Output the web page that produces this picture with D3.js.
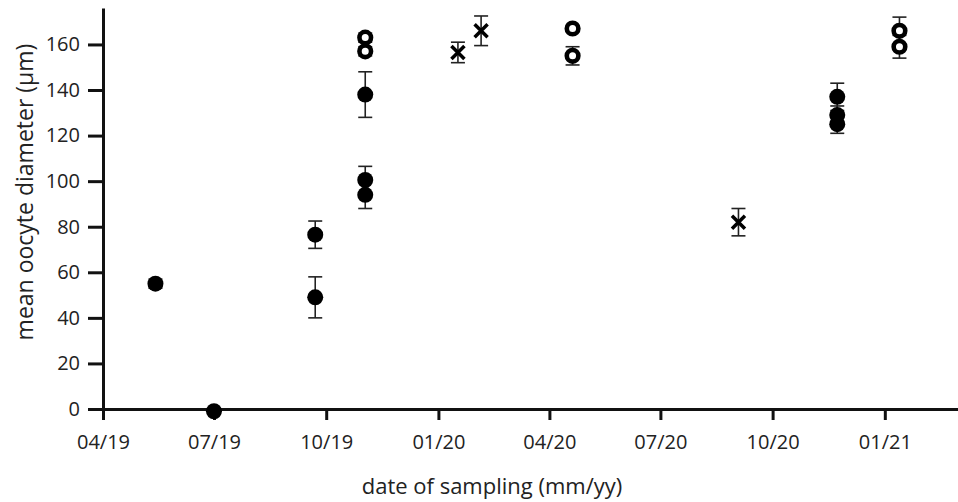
<!DOCTYPE html>
<html>
<head>
<meta charset="utf-8">
<script src="https://cdn.jsdelivr.net/npm/d3@7"></script>
<style>
  body { margin: 0; background: #fff; }
  svg { display: block; }
  text { font-family: "Open Sans", "Noto Sans", sans-serif; fill: #222; }
</style>
</head>
<body>
<svg id="chart" width="958" height="502"></svg>
<script>
// filled circles
const filledDate = ["2019-05-14","2019-07-01","2019-09-22","2019-09-22","2019-11-02","2019-11-02","2019-11-02","2020-11-23","2020-11-23","2020-11-23"]
const filledMean = [55, -1, 76.5, 49, 138, 100.5, 94, 137, 129, 125]
const filledErr  = [2, 0, 6, 9, 10, 6, 6, 6, 4, 4]
// open circles
const openDate = ["2019-11-02","2019-11-02","2020-04-20","2020-04-20","2021-01-13","2021-01-13"]
const openMean = [163, 157, 167, 155, 166, 159]
const openErr  = [2, 2, 1, 4, 6, 5]
// crosses
const crossDate = ["2020-01-17","2020-02-05","2020-09-03"]
const crossMean = [156.5, 166, 82]
const crossErr  = [4.5, 6.5, 6]

const xTicks = ["2019-04-01","2019-07-01","2019-10-01","2020-01-01","2020-04-01","2020-07-01","2020-10-01","2021-01-01"]
const yTicks = [0, 20, 40, 60, 80, 100, 120, 140, 160]

const parse = d3.timeParse("%Y-%m-%d")
const svg = d3.select("#chart")

const x = d3.scaleTime().domain([parse("2019-04-01"), parse("2021-03-02")]).range([103, 958])
const y = d3.scaleLinear().domain([0, 176]).range([409, 8])

function rows(dates, means, errs) {
    return dates.map((d, i) => ({date: parse(d), v: means[i], e: errs[i]}))
}
const filled = rows(filledDate, filledMean, filledErr)
const open = rows(openDate, openMean, openErr)
const cross = rows(crossDate, crossMean, crossErr)

// axes
const xAxis = svg.append("g").attr("transform", "translate(0," + y(0) + ")")
    .call(d3.axisBottom(x).tickValues(xTicks.map(parse)).tickFormat(d3.timeFormat("%m/%y"))
        .tickSize(11).tickSizeOuter(0).tickPadding(15))
const yAxis = svg.append("g").attr("transform", "translate(" + x.range()[0] + ",0)")
    .call(d3.axisLeft(y).tickValues(yTicks).tickSize(15).tickSizeOuter(0).tickPadding(8))
;[xAxis, yAxis].forEach(a => {
    a.select(".domain").attr("stroke", "#111").attr("stroke-width", 3)
    a.selectAll(".tick line").attr("stroke", "#111").attr("stroke-width", 3)
    a.selectAll(".tick text").attr("font-size", 20).attr("fill", "#222")
        .attr("font-family", "'Open Sans', sans-serif")
})

svg.append("text").attr("transform", "translate(33,192) rotate(-90)")
    .attr("text-anchor", "middle").attr("font-size", 23)
    .text("mean oocyte diameter (μm)")
svg.append("text").attr("x", 492).attr("y", 494)
    .attr("text-anchor", "middle").attr("font-size", 22)
    .text("date of sampling (mm/yy)")

// error bars, behind markers
const all = filled.concat(open, cross)
const eb = svg.append("g").attr("stroke", "#222").attr("stroke-width", 1.6)
eb.selectAll(".bar").data(all.filter(d => d.e > 0)).join("line").attr("class", "bar")
    .attr("x1", d => x(d.date)).attr("x2", d => x(d.date))
    .attr("y1", d => y(d.v - d.e)).attr("y2", d => y(d.v + d.e))
eb.selectAll(".capT").data(all.filter(d => d.e > 0)).join("line").attr("class", "capT")
    .attr("x1", d => x(d.date) - 7).attr("x2", d => x(d.date) + 7)
    .attr("y1", d => y(d.v + d.e)).attr("y2", d => y(d.v + d.e))
eb.selectAll(".capB").data(all.filter(d => d.e > 0)).join("line").attr("class", "capB")
    .attr("x1", d => x(d.date) - 7).attr("x2", d => x(d.date) + 7)
    .attr("y1", d => y(d.v - d.e)).attr("y2", d => y(d.v - d.e))

// markers
svg.append("g").selectAll("circle").data(filled).join("circle")
    .attr("cx", d => x(d.date)).attr("cy", d => y(d.v)).attr("r", 8)
    .attr("fill", "#000")
svg.append("g").selectAll("circle").data(open).join("circle")
    .attr("cx", d => x(d.date)).attr("cy", d => y(d.v)).attr("r", 5.8)
    .attr("fill", "#fff").attr("stroke", "#000").attr("stroke-width", 4.6)
svg.append("g").selectAll("path").data(cross).join("path")
    .attr("d", d => {
        const cx = x(d.date), cy = y(d.v), s = 6.5
        return `M${cx - s},${cy - s}L${cx + s},${cy + s}M${cx - s},${cy + s}L${cx + s},${cy - s}`
    })
    .attr("stroke", "#000").attr("stroke-width", 3.5).attr("fill", "none")
</script>
</body>
</html>
